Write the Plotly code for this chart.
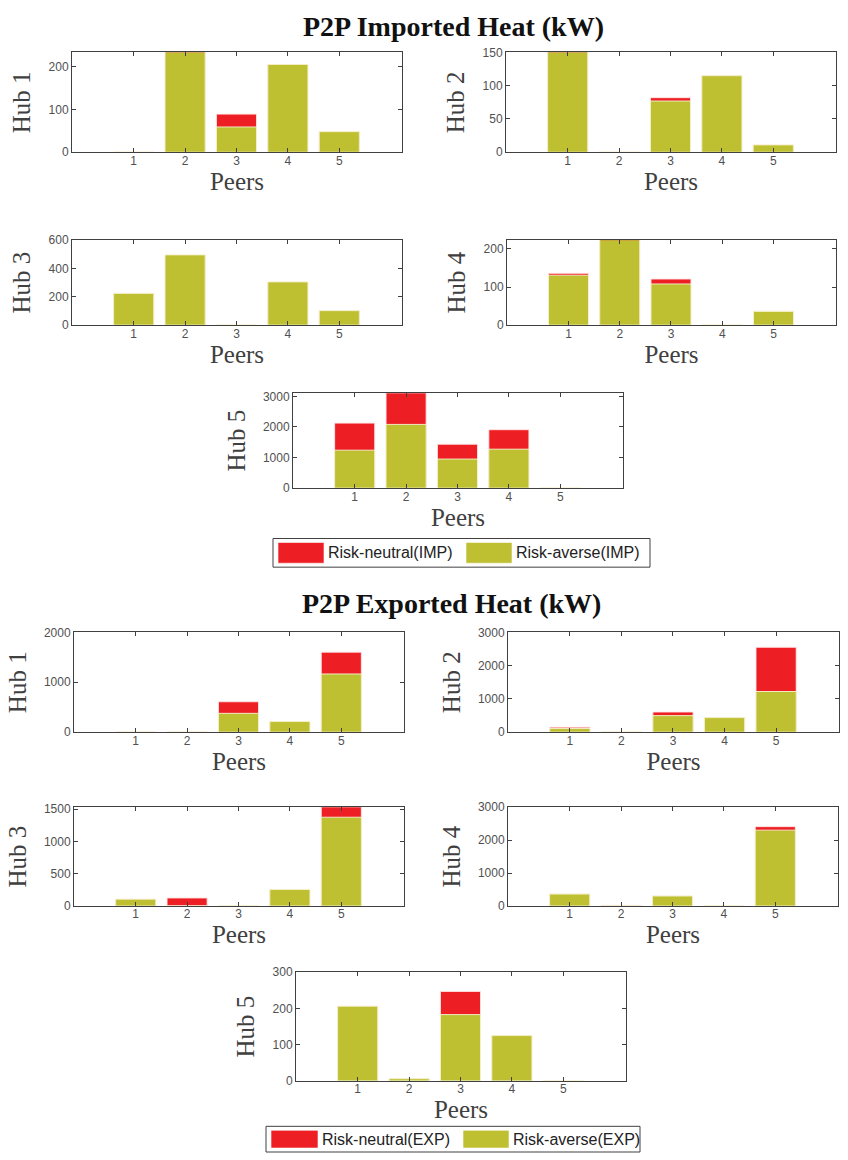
import plotly.graph_objects as go

W, H = 848, 1160

peers = [1, 2, 3, 4, 5]
hub_names = ["Hub 1", "Hub 2", "Hub 3", "Hub 4", "Hub 5"]

# Imported heat (kW): risk-neutral and risk-averse, per hub, per peer
imp_neutral_h1 = [0, 240, 89, 205, 48]
imp_averse_h1 = [0, 240, 59, 205, 48]
imp_neutral_h2 = [152, 0, 82, 115, 11]
imp_averse_h2 = [152, 0, 77, 115, 11]
imp_neutral_h3 = [224, 496, 0, 305, 102]
imp_averse_h3 = [224, 496, 0, 305, 102]
imp_neutral_h4 = [136, 230, 121, 0, 36]
imp_averse_h4 = [131, 230, 108, 0, 36]
imp_neutral_h5 = [2125, 3200, 1435, 1910, 0]
imp_averse_h5 = [1240, 2082, 950, 1273, 0]

# Exported heat (kW)
exp_neutral_h1 = [0, 0, 609, 212, 1603]
exp_averse_h1 = [0, 0, 377, 212, 1166]
exp_neutral_h2 = [149, 0, 606, 437, 2552]
exp_averse_h2 = [109, 0, 497, 437, 1222]
exp_neutral_h3 = [105, 125, 0, 256, 1600]
exp_averse_h3 = [105, 0, 0, 256, 1375]
exp_neutral_h4 = [363, 20, 304, 0, 2410]
exp_averse_h4 = [363, 0, 304, 0, 2304]
exp_neutral_h5 = [206, 6, 247, 125, 0]
exp_averse_h5 = [206, 6, 183, 125, 0]

imp_neutral = [imp_neutral_h1, imp_neutral_h2, imp_neutral_h3, imp_neutral_h4, imp_neutral_h5]
imp_averse = [imp_averse_h1, imp_averse_h2, imp_averse_h3, imp_averse_h4, imp_averse_h5]
exp_neutral = [exp_neutral_h1, exp_neutral_h2, exp_neutral_h3, exp_neutral_h4, exp_neutral_h5]
exp_averse = [exp_averse_h1, exp_averse_h2, exp_averse_h3, exp_averse_h4, exp_averse_h5]

imp_yranges = [233, 150, 600, 223, 3100]
imp_dticks = [100, 50, 200, 100, 1000]
exp_yranges = [2000, 3000, 1530, 3000, 300]
exp_dticks = [1000, 1000, 500, 1000, 100]

RED = "#ED1F24"
GREEN = "#BEBF31"
GRAY = "#404040"
SERIF = "Liberation Serif, Times New Roman, serif"
SANS = "Liberation Sans, Arial, sans-serif"

# pixel boxes (left, right, top, bottom) for each panel
imp_boxes = [(72, 402, 46, 147), (506, 836, 46, 147), (72, 402, 236, 322),
             (507, 836, 236, 322), (293, 623, 391, 487)]
exp_boxes = [(74, 404, 633, 734), (508, 839, 633, 734), (74, 404, 810, 910),
             (508, 838, 810, 910), (296, 626, 977, 1087)]

fig = go.Figure()
layout = {}
idx = 0


def add_panel(neutral, averse, box, ymax, dtick, hub):
    global idx
    idx += 1
    sx = "" if idx == 1 else str(idx)
    xa, ya = "x" + sx, "y" + sx
    fig.add_trace(go.Bar(x=peers, y=neutral, xaxis=xa, yaxis=ya, width=0.78,
                         marker=dict(color=RED, line=dict(color="rgba(255,230,230,0.9)", width=1)),
                         showlegend=False, hoverinfo="x+y"))
    fig.add_trace(go.Bar(x=peers, y=averse, xaxis=xa, yaxis=ya, width=0.78,
                         marker=dict(color=GREEN, line=dict(color="rgba(245,245,210,0.9)", width=1)),
                         showlegend=False, hoverinfo="x+y"))
    l, r, t, b = box
    layout["xaxis" + sx] = dict(
        domain=[l / W, r / W], anchor=ya, range=[-0.2, 6.22],
        tickvals=peers, ticktext=[str(p) for p in peers],
        ticks="inside", ticklen=4, tickcolor=GRAY, showline=True, linecolor=GRAY,
        linewidth=1, mirror="ticks", showgrid=False, zeroline=False,
        tickfont=dict(family=SANS, size=12, color="#505050"), ticklabelstandoff=-3,
        title=dict(text="Peers", font=dict(family=SERIF, size=25, color=GRAY), standoff=3),
        fixedrange=True)
    layout["yaxis" + sx] = dict(
        domain=[1 - b / H, 1 - t / H], anchor=xa, range=[0, ymax], dtick=dtick,
        ticks="inside", ticklen=4, tickcolor=GRAY, showline=True, linecolor=GRAY,
        linewidth=1, mirror="ticks", showgrid=False, zeroline=False,
        tickfont=dict(family=SANS, size=12, color="#505050"),
        title=dict(text=hub, font=dict(family=SERIF, size=25, color=GRAY), standoff=10),
        fixedrange=True)


for i in range(5):
    add_panel(imp_neutral[i], imp_averse[i], imp_boxes[i], imp_yranges[i], imp_dticks[i], hub_names[i])
for i in range(5):
    add_panel(exp_neutral[i], exp_averse[i], exp_boxes[i], exp_yranges[i], exp_dticks[i], hub_names[i])

shapes = []
annotations = []

# Titles
annotations.append(dict(text="<b>P2P Imported Heat (kW)</b>", x=453 / W, y=1 - 20 / H,
                        xref="paper", yref="paper", xanchor="center", yanchor="middle",
                        showarrow=False, font=dict(family=SERIF, size=28, color="#111111")))
annotations.append(dict(text="<b>P2P Exported Heat (kW)</b>", x=451 / W, y=1 - 604 / H,
                        xref="paper", yref="paper", xanchor="center", yanchor="middle",
                        showarrow=False, font=dict(family=SERIF, size=28, color="#111111")))


def add_legend(box, red_sw, green_sw, red_txt, green_txt, red_tx, green_tx):
    l, r, t, b = box
    shapes.append(dict(type="rect", xref="paper", yref="paper", x0=l / W, x1=r / W,
                       y0=1 - b / H, y1=1 - t / H, line=dict(color=GRAY, width=1),
                       fillcolor="white", layer="below"))
    for (x0, x1, y0, y1), col in ((red_sw, RED), (green_sw, GREEN)):
        shapes.append(dict(type="rect", xref="paper", yref="paper", x0=x0 / W, x1=x1 / W,
                           y0=1 - y1 / H, y1=1 - y0 / H, fillcolor=col,
                           line=dict(color="rgba(255,255,255,0.6)", width=1)))
    yc = ((red_sw[2] + red_sw[3]) / 2)
    for txt, xt in ((red_txt, red_tx), (green_txt, green_tx)):
        annotations.append(dict(text=txt, x=xt / W, y=1 - yc / H, xref="paper", yref="paper",
                                xanchor="left", yanchor="middle", showarrow=False,
                                font=dict(family=SANS, size=16, color="#222222")))


add_legend((273, 650, 538, 567), (278, 324, 542, 563), (466, 512, 542, 563),
           "Risk-neutral(IMP)", "Risk-averse(IMP)", 326, 514)
add_legend((266, 640, 1133, 1159), (271, 318, 1137, 1155), (463, 509, 1137, 1155),
           "Risk-neutral(EXP)", "Risk-averse(EXP)", 320, 511)

fig.update_layout(**layout)
fig.update_layout(
    width=W, height=H, margin=dict(l=0, r=0, t=0, b=0),
    paper_bgcolor="white", plot_bgcolor="white",
    barmode="overlay", bargap=0.2,
    shapes=shapes, annotations=annotations, showlegend=False,
)

fig.write_html(
    "out.html",
    config={"displayModeBar": False},
    post_script="document.documentElement.style.margin='0';document.body.style.margin='0';"
                "document.body.style.padding='0';document.body.style.overflow='hidden';",
)
